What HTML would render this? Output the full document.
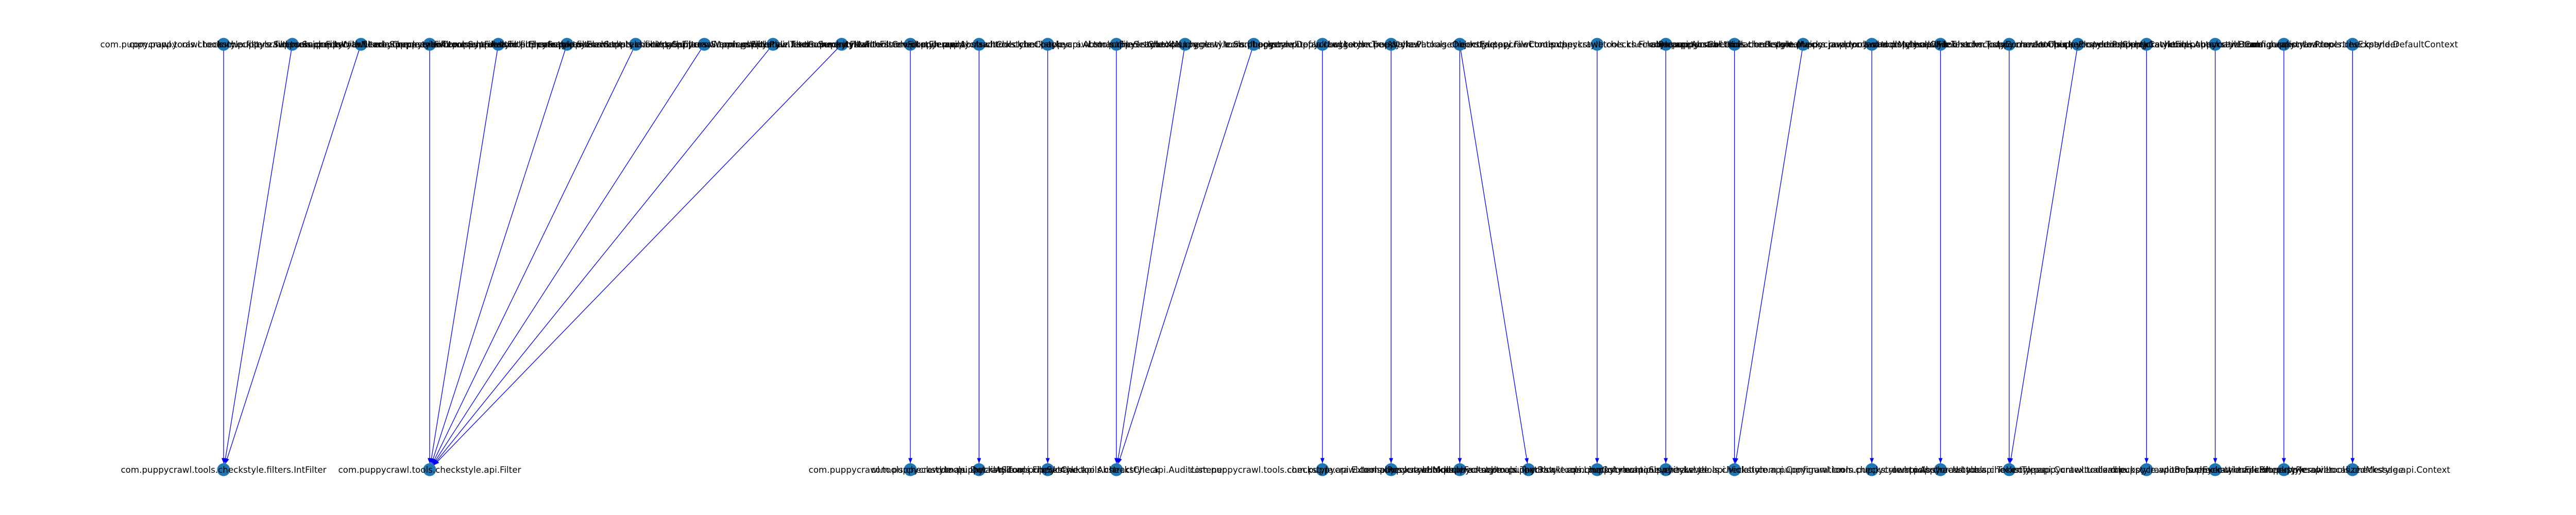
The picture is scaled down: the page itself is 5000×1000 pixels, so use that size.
<!DOCTYPE html>
<html><head><meta charset="utf-8"><title>Dependency graph</title>
<style>html,body{margin:0;padding:0;background:#fff;}svg{display:block;}</style></head>
<body>
<svg id="chart" width="5000" height="1000" viewBox="0 0 5000 1000" xmlns="http://www.w3.org/2000/svg">
<defs><marker id="ah" markerWidth="10" markerHeight="8" refX="10" refY="4" orient="auto" markerUnits="userSpaceOnUse"><path d="M0,0 L10,4 L0,8 Z" fill="#0000ff"/></marker></defs>
<g id="edges"></g>
<g id="nodes"></g>
<g id="labels"></g>
</svg>
<script>
const P = "com.puppycrawl.tools.checkstyle.";
const topSlots = [0,1,2,3,4,5,6,7,8,9,10,11,12,13,14,15,16,17,18,20,21,22,23,24,25,26,27,28,29,30,31];
const topLabels = ["filters.SuppressionFilter","filters.SuppressWithNearbyCommentFilter","filters.SuppressionCommentFilter","filters.SuppressFilterElement","filters.SuppressElement","filters.SuppressionXpathFilter","filters.SuppressWarningsFilter","filters.SuppressWithPlainTextCommentFilter","filters.SeverityMatchFilter","filters.CsvFilterElement","api.AbstractCheck","Checker","api.AbstractFileSetCheck","XMLLogger","SarifLogger","DefaultLogger","TreeWalker","PackageObjectFactory","api.FileContents","checks.FinalParametersCheck","api.AbstractViolationReporter","Main","checks.javadoc.JavadocMethodCheck","api.FileText","checks.TodoCommentCheck","checks.UniquePropertiesCheck","PropertyCacheFile","api.AutomaticBean","ConfigurationLoader","PropertiesExpander","DefaultContext"];
const bottomSlots = [0,3,10,11,12,13,16,17,18,19,20,21,22,24,25,26,28,29,30,31];
const bottomLabels = ["filters.IntFilter","api.Filter","api.DetailAST","api.FileSetCheck","api.AbstractCheck","api.AuditListener","api.ExternalResourceHolder","ModuleFactory","api.TextBlock","api.LineColumn","api.SeverityLevel","api.Violation","api.Configuration","api.AbstractLoader","api.TokenTypes","api.Contextualizable","api.BeforeExecutionFileFilter","api.PropertyResolver","api.LocalizedMessage","api.Context"];
const edgeFrom = [0,1,2,3,4,5,6,7,8,9,10,11,12,13,14,15,16,17,18,18,20,21,22,23,24,25,26,27,28,29,30,31];
const edgeTo   = [0,0,0,3,3,3,3,3,3,3,10,11,12,13,13,13,16,17,18,19,20,21,22,22,24,25,26,26,28,29,30,31];

const X0 = 434, DX = 133.3, YT = 86, YB = 912, R = 12.5;
const xOf = s => X0 + DX * s;
const NS = "http://www.w3.org/2000/svg";
const eg = document.getElementById('edges'), ng = document.getElementById('nodes'), lg = document.getElementById('labels');

edgeFrom.forEach((f, i) => {
  const x1 = xOf(f), y1 = YT, x2 = xOf(edgeTo[i]), y2 = YB;
  const dx = x2 - x1, dy = y2 - y1, L = Math.hypot(dx, dy);
  const l = document.createElementNS(NS, 'line');
  
  
  l.setAttribute('x1', x1); l.setAttribute('y1', y1);
  l.setAttribute('x2', x2 - dx / L * R); l.setAttribute('y2', y2 - dy / L * R);
  l.setAttribute('stroke', '#0000ff'); l.setAttribute('stroke-width', '1.3');
  l.setAttribute('marker-end', 'url(#ah)');
  eg.appendChild(l);
});

function addNode(slot, y, label) {
  const c = document.createElementNS(NS, 'circle');
  
  
  c.setAttribute('cx', xOf(slot)); c.setAttribute('cy', y); c.setAttribute('r', R);
  c.setAttribute('fill', '#1f77b4');
  ng.appendChild(c);
  const t = document.createElementNS(NS, 'text');
  
  
  t.setAttribute('x', xOf(slot)); t.setAttribute('y', y + 6);
  t.setAttribute('text-anchor', 'middle');
  t.setAttribute('font-family', 'DejaVu Sans, Liberation Sans, sans-serif');
  t.setAttribute('font-size', '16.7');
  t.setAttribute('fill', '#000');
  t.textContent = P + label;
  lg.appendChild(t);
}
topSlots.forEach((s, i) => addNode(s, YT, topLabels[i]));
bottomSlots.forEach((s, i) => addNode(s, YB, bottomLabels[i]));
</script>
</body></html>
